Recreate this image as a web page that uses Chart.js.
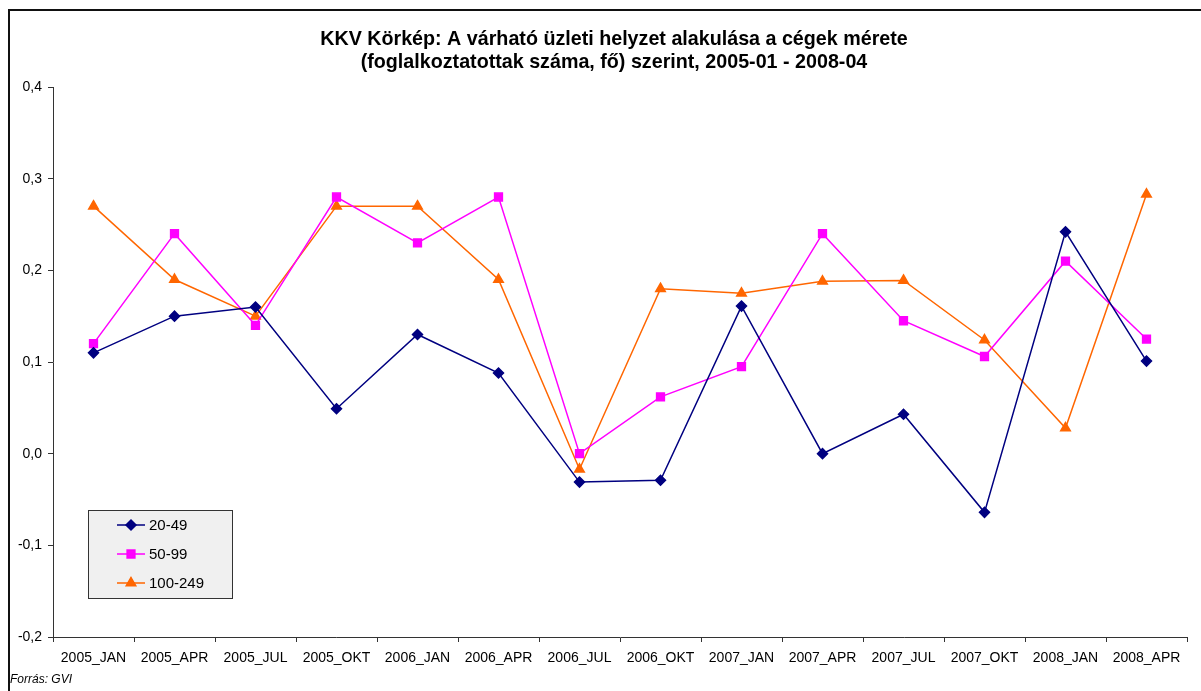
<!DOCTYPE html>
<html>
<head>
<meta charset="utf-8">
<script src="https://cdn.jsdelivr.net/npm/chart.js@4/dist/chart.umd.min.js"></script>
<style>
  body { margin: 0; background: #fff; }
  #wrap { position: relative; width: 1201px; height: 691px; }
  #source { position: absolute; left: 10px; top: 672px; font: italic 12px 'Liberation Sans', Arial, sans-serif; color: #000; }
</style>
</head>
<body>
<div id="wrap">
  <canvas id="myChart" width="1201" height="691"></canvas>
  <div id="source">Forrás: GVI</div>
</div>
<script>
const titleLines = [
  "KKV Körkép: A várható üzleti helyzet alakulása a cégek mérete",
  "(foglalkoztatottak száma, fő) szerint, 2005-01 - 2008-04"
];
const categories = ["2005_JAN", "2005_APR", "2005_JUL", "2005_OKT", "2006_JAN", "2006_APR", "2006_JUL",
  "2006_OKT", "2007_JAN", "2007_APR", "2007_JUL", "2007_OKT", "2008_JAN", "2008_APR"];
const seriesNames = ["20-49", "50-99", "100-249"];
const small = [0.110, 0.150, 0.160, 0.049, 0.130, 0.088, -0.031, -0.029, 0.161, 0.000, 0.043, -0.064, 0.242, 0.101];
const medium = [0.120, 0.240, 0.140, 0.280, 0.230, 0.280, 0.000, 0.062, 0.095, 0.240, 0.145, 0.106, 0.210, 0.125];
const large = [0.270, 0.190, 0.150, 0.270, 0.270, 0.190, -0.017, 0.180, 0.175, 0.188, 0.189, 0.124, 0.028, 0.283];
const yTicks = [-0.2, -0.1, 0.0, 0.1, 0.2, 0.3, 0.4];

Chart.defaults.font.family = "'Liberation Sans', Arial, sans-serif";
Chart.defaults.font.size = 14;
Chart.defaults.color = "#000";

// frame, title and the boxed legend inside the plot
const decorations = {
  id: "decorations",
  beforeDraw(chart) {
    const ctx = chart.ctx;
    ctx.save();
    ctx.strokeStyle = "#111";
    ctx.lineWidth = 2;
    ctx.strokeRect(9, 10, 1300, 800);
    ctx.restore();
  },
  afterDraw(chart) {
    const ctx = chart.ctx;
    ctx.save();
    ctx.fillStyle = "#000";
    ctx.font = "bold 19.7px 'Liberation Sans', Arial, sans-serif";
    ctx.textAlign = "center";
    ctx.textBaseline = "middle";
    ctx.fillText(titleLines[0], 614, 40);
    ctx.fillText(titleLines[1], 614, 63);

    // legend
    ctx.fillStyle = "#f0f0f0";
    ctx.fillRect(88, 510, 144, 88);
    ctx.strokeStyle = "#333";
    ctx.lineWidth = 1;
    ctx.strokeRect(88.5, 510.5, 144, 88);
    ctx.font = "15px 'Liberation Sans', Arial, sans-serif";
    ctx.textAlign = "left";
    chart.data.datasets.forEach((ds, i) => {
      const y = 525 + i * 29;
      ctx.strokeStyle = ds.borderColor;
      ctx.lineWidth = 1.5;
      ctx.beginPath();
      ctx.moveTo(117, y);
      ctx.lineTo(145, y);
      ctx.stroke();
      Chart.helpers.drawPoint(ctx, {
        pointStyle: ds.pointStyle, radius: ds.pointRadius, borderWidth: 1
      }, 131, y);
      ctx.fillStyle = ds.borderColor;
      ctx.fill();
      ctx.fillStyle = "#000";
      ctx.fillText(ds.label, 149, y + 1);
    });
    ctx.restore();
  }
};

const myChart = document.querySelector("#myChart").getContext("2d");
new Chart(myChart, {
  type: "line",
  data: {
    labels: categories,
    datasets: [
      { label: seriesNames[0], data: small, borderColor: "#000080", backgroundColor: "#000080",
        pointStyle: "rectRot", pointRadius: 5, borderWidth: 1.5 },
      { label: seriesNames[1], data: medium, borderColor: "#ff00ff", backgroundColor: "#ff00ff",
        pointStyle: "rect", pointRadius: 5.5, borderWidth: 1.5 },
      { label: seriesNames[2], data: large, borderColor: "#ff6600", backgroundColor: "#ff6600",
        pointStyle: "triangle", pointRadius: 5.5, borderWidth: 1.5 }
    ]
  },
  options: {
    responsive: false,
    animation: false,
    layout: { padding: { top: 87, right: 14, bottom: 0, left: 0 } },
    plugins: { legend: { display: false }, title: { display: false }, tooltip: { enabled: false } },
    elements: { line: { tension: 0 }, point: { borderWidth: 0 } },
    scales: {
      x: {
        offset: true,
        grid: { display: true, drawOnChartArea: false, offset: true, tickLength: 5, color: "#333" },
        border: { color: "#333", width: 1 },
        ticks: { padding: 8, maxRotation: 0, autoSkip: false, font: { size: 14 } },
        afterFit(scale) { scale.height = 54; }
      },
      y: {
        min: -0.2,
        max: 0.4,
        afterBuildTicks(scale) { scale.ticks = yTicks.map(v => ({ value: v })); },
        grid: { display: true, drawOnChartArea: false, tickLength: 5, color: "#333" },
        border: { color: "#333", width: 1 },
        ticks: {
          padding: 6,
          font: { size: 14 },
          callback: v => v.toFixed(1).replace(".", ",")
        },
        afterFit(scale) { scale.width = 53; }
      }
    }
  },
  plugins: [decorations]
});
</script>
</body>
</html>
